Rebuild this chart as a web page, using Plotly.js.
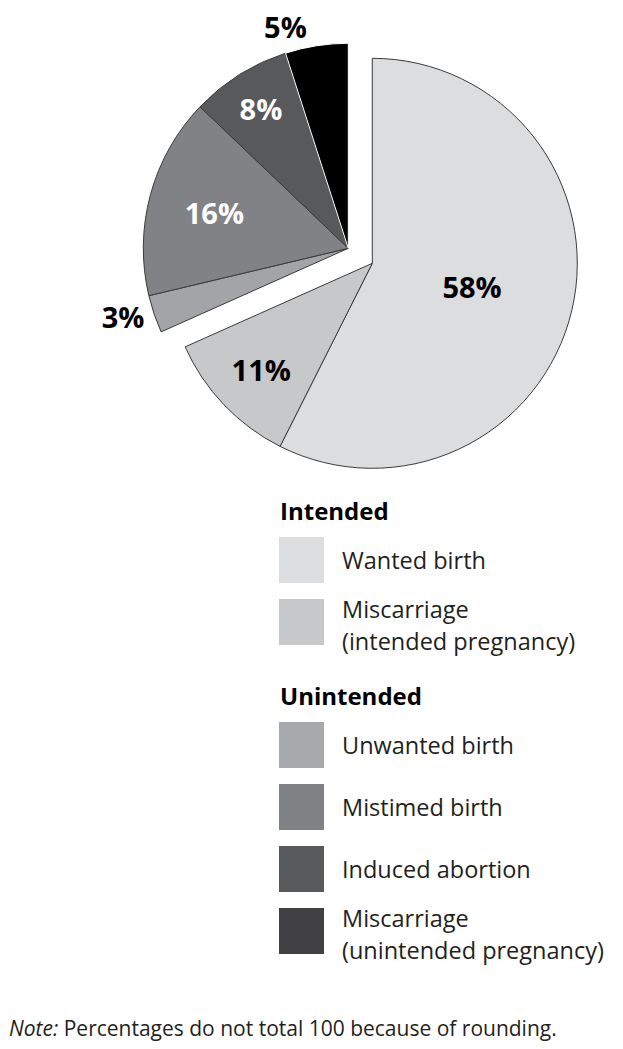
<!DOCTYPE html>
<html><head><meta charset="utf-8">
<script src="https://cdn.plot.ly/plotly-3.0.1.min.js"></script>
<style>html,body{margin:0;padding:0;background:#fff}</style>
</head><body><div id="chart" style="width:623px;height:1049px"></div>
<script>
// ---- data ----
const categories = ["Wanted birth","Miscarriage (intended pregnancy)","Unwanted birth","Mistimed birth","Induced abortion","Miscarriage (unintended pregnancy)"];
const groups = ["Intended","Intended","Unintended","Unintended","Unintended","Unintended"];
const groupNames = ["Intended","Unintended"];
const values = [58, 11, 3, 16, 8, 5];
const sliceColors = ["#dcdddf","#c7c8ca","#a2a4a7","#808285","#58595b","#000000"];
const legendColors = ["#dcdddf","#c7c8ca","#a7a9ac","#808285","#58595b","#414042"];
const legendLines = [["Wanted birth"],["Miscarriage","(intended pregnancy)"],["Unwanted birth"],["Mistimed birth"],["Induced abortion"],["Miscarriage","(unintended pregnancy)"]];
const labelColors = ["#000","#000","#000","#fff","#fff","#000"];
const noteText = "<i>Note:</i> Percentages do not total 100 because of rounding.";

// ---- layout helpers ----
const W = 623, H = 1049;
const px = x => x / W;
const py = y => 1 - y / H;
const FONT = "Open Sans, Noto Sans, sans-serif";
const R = 205;
const centers = {Intended: [372.3, 263.3], Unintended: [348.3, 248.3]};

function makeTrace(group) {
  const [cx, cy] = centers[group];
  const on = groups.map(g => g === group);
  return {
    type: "pie",
    labels: categories,
    values: values,
    sort: false,
    direction: "clockwise",
    rotation: 0,
    showlegend: false,
    hoverinfo: "skip",
    domain: {x: [px(cx - R), px(cx + R)], y: [py(cy + R), py(cy - R)]},
    marker: {
      colors: sliceColors.map((c, i) => on[i] ? c : "rgba(0,0,0,0)"),
      line: {
        color: sliceColors.map((c, i) => i === 5 ? "#ffffff" : "#3a3a3a"),
        width: on.map(v => v ? 1 : 0)
      }
    },
    text: values.map((v, i) => on[i] ? v + "%" : ""),
    textinfo: "text",
    textposition: values.map((v, i) => (v <= 5) ? "outside" : "inside"),
    insidetextorientation: "horizontal",
    textfont: {family: FONT, size: 29, color: labelColors, weight: 700},
    automargin: false
  };
}

const data = groupNames.map(makeTrace);

// ---- custom legend ----
const shapes = [];
const annotations = [];
const SW = 45, TX = 339.5, SX = 279;
const TEXTC = "#231f20";
let y = 510;
groupNames.forEach((g, gi) => {
  annotations.push({xref: "paper", yref: "paper", x: px(SX - 1), y: py(y), xanchor: "left", yanchor: "middle",
    text: "<b>" + g + "</b>", showarrow: false, font: {family: FONT, size: 24, color: "#000"}});
  let top = y + 27;
  categories.forEach((c, i) => {
    if (groups[i] !== g) return;
    shapes.push({type: "rect", xref: "paper", yref: "paper", x0: px(SX), x1: px(SX + SW), y0: py(top + 46), y1: py(top),
      fillcolor: legendColors[i], line: {width: 0}});
    const lines = legendLines[i];
    lines.forEach((ln, li) => {
      const ty = lines.length === 1 ? top + 23 : top + 10 + li * 32;
      annotations.push({xref: "paper", yref: "paper", x: px(TX), y: py(ty), xanchor: "left", yanchor: "middle",
        text: ln, showarrow: false, font: {family: FONT, size: 23.5, color: TEXTC}});
    });
    top += 62;
  });
  y = top - 62 + 96;
});

annotations.push({xref: "paper", yref: "paper", x: px(7), y: py(1028), xanchor: "left", yanchor: "middle",
  text: noteText, showarrow: false, font: {family: FONT, size: 21, color: TEXTC}});

const layout = {
  width: W, height: H,
  margin: {l: 0, r: 0, t: 0, b: 0},
  paper_bgcolor: "#fff",
  showlegend: false,
  shapes: shapes,
  annotations: annotations,
  font: {family: FONT}
};

Plotly.newPlot("chart", data, layout, {displayModeBar: false, staticPlot: true});
</script></body></html>
